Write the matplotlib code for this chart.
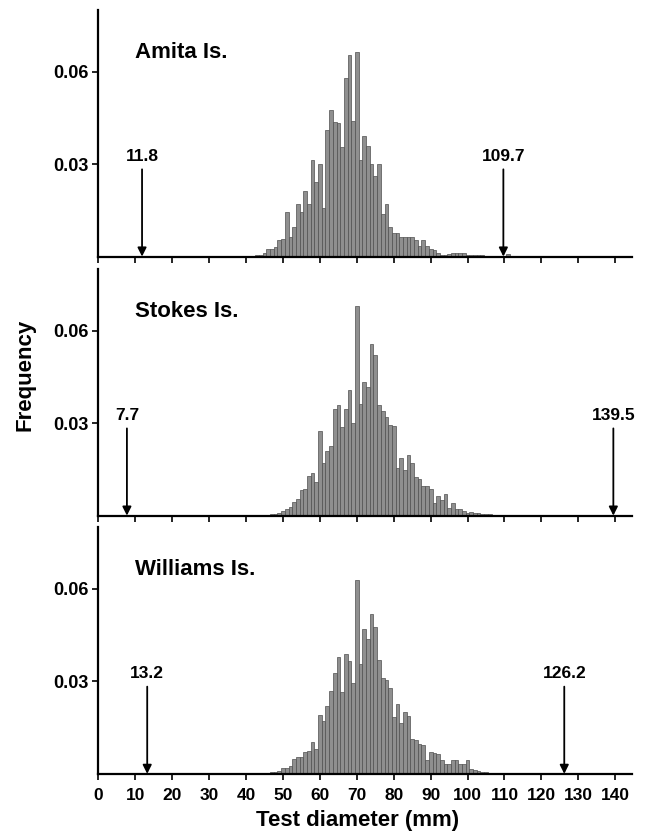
import numpy as np
import matplotlib
matplotlib.use('Agg')
from matplotlib import pyplot as plt

plt.rcParams['font.family'] = ['Liberation Sans', 'DejaVu Sans']
plt.rcParams['font.weight'] = 'bold'

# test diameter bins (mm), 1 mm wide, centred on integers
diameter = np.arange(40, 113)

amita = [0.0002, 0.0002, 0.0003, 0.0005, 0.0005, 0.0010, 0.0024, 0.0026, 0.0032, 0.0054,
         0.0056, 0.0143, 0.0063, 0.0095, 0.0170, 0.0144, 0.0214, 0.0170, 0.0314, 0.0243,
         0.0300, 0.0157, 0.0410, 0.0476, 0.0435, 0.0433, 0.0357, 0.0580, 0.0655, 0.0440,
         0.0663, 0.0314, 0.0390, 0.0360, 0.0300, 0.0260, 0.0300, 0.0139, 0.0170, 0.0097,
         0.0077, 0.0075, 0.0065, 0.0065, 0.0062, 0.0065, 0.0054, 0.0035, 0.0054, 0.0035,
         0.0024, 0.0020, 0.0010, 0.0006, 0.0005, 0.0008, 0.0013, 0.0012, 0.0013, 0.0013,
         0.0005, 0.0005, 0.0004, 0.0006, 0.0004, 0.0003, 0.0003, 0.0003, 0.0002, 0.0003,
         0.0002, 0.0008, 0.0002]

stokes = [0.0001, 0.0001, 0.0001, 0.0002, 0.0002, 0.0002, 0.0002, 0.0004, 0.0006, 0.0010,
          0.0014, 0.0020, 0.0028, 0.0043, 0.0054, 0.0082, 0.0086, 0.0130, 0.0138, 0.0110,
          0.0273, 0.0170, 0.0210, 0.0225, 0.0346, 0.0360, 0.0288, 0.0346, 0.0406, 0.0300,
          0.0680, 0.0363, 0.0432, 0.0417, 0.0558, 0.0520, 0.0360, 0.0340, 0.0320, 0.0293,
          0.0290, 0.0155, 0.0187, 0.0148, 0.0198, 0.0170, 0.0126, 0.0118, 0.0097, 0.0095,
          0.0086, 0.0040, 0.0063, 0.0052, 0.0070, 0.0025, 0.0040, 0.0022, 0.0020, 0.0016,
          0.0010, 0.0013, 0.0010, 0.0008, 0.0006, 0.0005, 0.0004, 0.0003, 0.0003, 0.0002,
          0.0002, 0.0001, 0.0001]

williams = [0.0002, 0.0002, 0.0002, 0.0003, 0.0003, 0.0003, 0.0004, 0.0005, 0.0006, 0.0009,
            0.0018, 0.0018, 0.0027, 0.0048, 0.0054, 0.0055, 0.0072, 0.0074, 0.0102, 0.0080,
            0.0190, 0.0172, 0.0220, 0.0270, 0.0326, 0.0380, 0.0267, 0.0388, 0.0367, 0.0295,
            0.0630, 0.0357, 0.0470, 0.0438, 0.0520, 0.0475, 0.0368, 0.0310, 0.0304, 0.0277,
            0.0184, 0.0227, 0.0165, 0.0202, 0.0188, 0.0112, 0.0110, 0.0098, 0.0095, 0.0046,
            0.0070, 0.0068, 0.0065, 0.0046, 0.0033, 0.0033, 0.0046, 0.0045, 0.0033, 0.0033,
            0.0046, 0.0016, 0.0012, 0.0010, 0.0006, 0.0005, 0.0004, 0.0003, 0.0003, 0.0002,
            0.0002, 0.0001, 0.0001]

islands = ['Amita Is.', 'Stokes Is.', 'Williams Is.']
freqs = [amita, stokes, williams]
# arrow markers (min, max), mm
marks = [(11.8, 109.7), (7.7, 139.5), (13.2, 126.2)]

fig = plt.figure(figsize=(6.48, 8.33), dpi=100)
bottoms = [0.692, 0.381, 0.071]

for i in range(3):
    ax = fig.add_axes([0.152, bottoms[i], 0.823, 0.296])
    ax.bar(diameter, freqs[i], width=1.0, color='#8f8f8f', edgecolor='#505050', linewidth=0.5)
    ax.set_xlim(0, 144.5)
    ax.set_ylim(0, 0.08)
    ax.spines['top'].set_visible(False)
    ax.spines['right'].set_visible(False)
    ax.spines['left'].set_linewidth(1.6)
    ax.spines['bottom'].set_linewidth(1.6)
    ax.set_xticks(np.arange(0, 141, 10))
    ax.set_yticks([0.03, 0.06])
    ax.set_yticklabels(['0.03', '0.06'])
    ax.tick_params(axis='both', direction='out', length=4, width=1.2)
    ax.tick_params(axis='y', labelsize=13, pad=3)
    ax.tick_params(axis='x', labelsize=12.5, pad=6)
    if i < 2:
        ax.tick_params(axis='x', labelbottom=False)
    ax.text(10, 0.0662, islands[i], fontsize=16, fontweight='bold', va='center')
    for m in marks[i]:
        ax.annotate('', xy=(m, 0), xytext=(m, 0.0283),
                    arrowprops=dict(arrowstyle='-|>', color='black', lw=1.3,
                                    mutation_scale=13, shrinkA=0, shrinkB=0))
        ax.text(m, 0.0300, str(m), ha='center', va='bottom', fontsize=12.5, fontweight='bold')
    if i == 2:
        ax.set_xlabel('Test diameter (mm)', fontsize=16, fontweight='bold')
        ax.xaxis.set_label_coords(0.485, -0.145)

fig.text(0.039, 0.55, 'Frequency', rotation=90, ha='center', va='center',
         fontsize=16, fontweight='bold')

plt.savefig('out.png', dpi=100)
